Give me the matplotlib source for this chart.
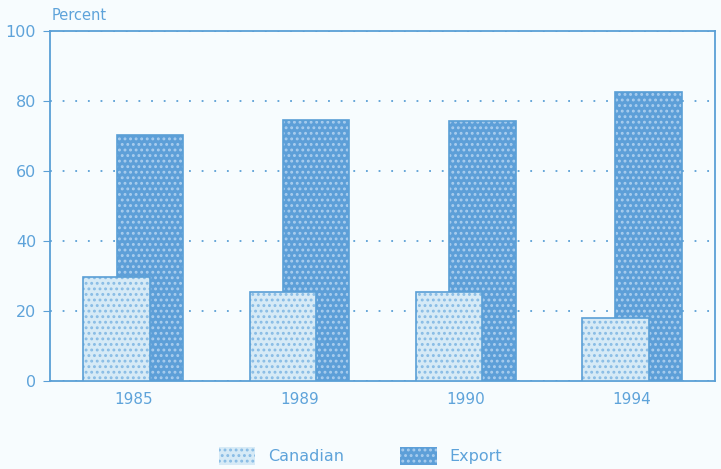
import numpy as np
import matplotlib.pyplot as plt
from matplotlib.patches import Patch

years = ["1985", "1989", "1990", "1994"]
canadian = [29.7, 25.4, 25.4, 18.0]
export = [70.3, 74.6, 74.3, 82.6]

blue = "#5a9fd6"
text_blue = "#5ea3da"
bg = "#f7fcfe"
can_fill, can_dots = "#d6eaf6", "#88bce5"
exp_fill, exp_dots = "#5d9fd8", "#a9cdee"

plt.rcParams["font.family"] = ["DejaVu Sans"]
plt.rcParams["hatch.linewidth"] = 1.3

fig = plt.figure(figsize=(7.21, 4.69), dpi=100, facecolor=bg)
ax = fig.add_axes([50 / 721, 1 - 381 / 469, 665 / 721, 350 / 469], facecolor=bg)

x = np.arange(len(years))
w = 0.4

# export bars sit behind, canadian bars overlap them in front
ax.bar(x + 0.1, export, w, color=exp_fill, hatch="...", edgecolor=exp_dots,
       linewidth=0, zorder=2)
ax.bar(x + 0.1, export, w, facecolor="none", edgecolor=blue, linewidth=1.2, zorder=2)
ax.bar(x - 0.1, canadian, w, color=can_fill, hatch="...", edgecolor=can_dots,
       linewidth=0, zorder=3)
ax.bar(x - 0.1, canadian, w, facecolor="none", edgecolor=blue, linewidth=1.2, zorder=3)

ax.set_xlim(-0.5, 3.5)
ax.set_ylim(0, 100)
ax.set_yticks([0, 20, 40, 60, 80, 100])
ax.set_xticks(x)
ax.set_xticklabels(years)
ax.tick_params(axis="x", length=0, pad=8, colors=text_blue, labelsize=11)
ax.tick_params(axis="y", length=5, pad=5, colors=blue, labelcolor=text_blue, labelsize=11.5)
for s in ax.spines.values():
    s.set_color(blue)
    s.set_linewidth(1.3)
ax.yaxis.grid(True, linestyle=(0, (1, 6)), color=blue, linewidth=1.3)
ax.set_axisbelow(True)

fig.text(52 / 721, 1 - 15 / 469, "Percent", color=text_blue, fontsize=10.5,
         va="center", ha="left")

handles = [Patch(facecolor=can_fill, hatch="...", edgecolor=can_dots, linewidth=0),
           Patch(facecolor=exp_fill, hatch="...", edgecolor=exp_dots, linewidth=0)]
leg = fig.legend(handles, ["Canadian", "Export"], loc="center", ncol=2,
                 bbox_to_anchor=(0.5, 1 - 456 / 469), frameon=False,
                 handlelength=2.3, handleheight=1.3, handletextpad=0.8,
                 columnspacing=3.5, fontsize=11.5)
for t in leg.get_texts():
    t.set_color(text_blue)

fig.savefig("out.png", dpi=100, facecolor=bg)
